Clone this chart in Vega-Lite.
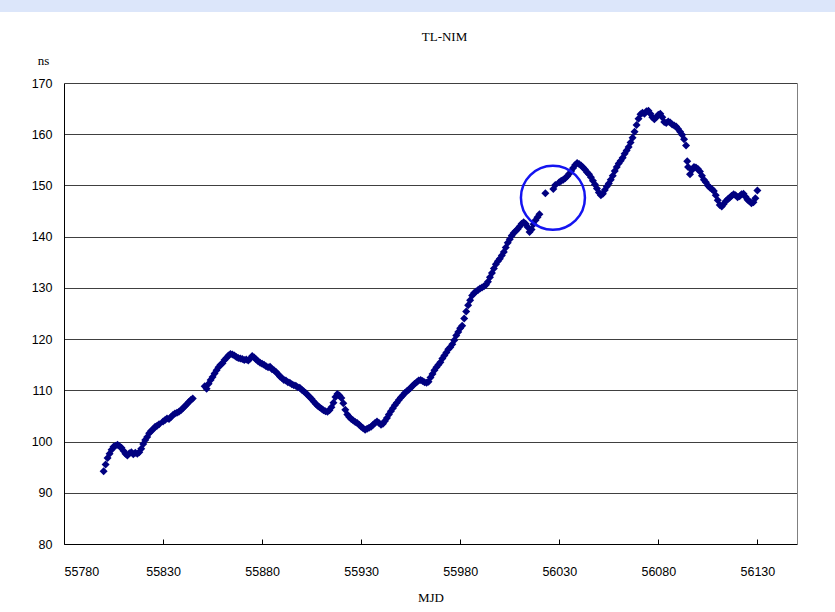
{
  "$schema": "https://vega.github.io/schema/vega-lite/v6.json",
  "width": 733,
  "height": 461,
  "autosize": {"type": "none"},
  "padding": {"left": 64, "top": 83, "right": 38, "bottom": 68},
  "background": "#dce6fa",
  "config": {
    "view": {"stroke": "white", "strokeWidth": 142, "fill": "white"},
    "axis": {"labelFont": "Liberation Sans", "labelFontSize": 12.5, "labelColor": "#000000", "titleFont": "Liberation Serif", "titleFontSize": 13, "titleFontWeight": "normal", "titleColor": "#000000"}
  },
  "title": {"text": "TL-NIM", "font": "Liberation Serif", "fontSize": 13, "fontWeight": "normal", "color": "#000000", "dx": 14, "offset": 10},
  "datasets": {
    "tl": [
      {"MJD": 55800, "ns": 94.2}, {"MJD": 55801, "ns": 95.5}, {"MJD": 55802, "ns": 96.8}, {"MJD": 55803, "ns": 97.6}, {"MJD": 55804, "ns": 98.4},
      {"MJD": 55805, "ns": 99.0}, {"MJD": 55806, "ns": 99.2}, {"MJD": 55807, "ns": 99.4}, {"MJD": 55808, "ns": 99.1}, {"MJD": 55809, "ns": 98.8},
      {"MJD": 55810, "ns": 98.2}, {"MJD": 55811, "ns": 97.6}, {"MJD": 55812, "ns": 97.3}, {"MJD": 55813, "ns": 97.7}, {"MJD": 55814, "ns": 97.9},
      {"MJD": 55815, "ns": 97.5}, {"MJD": 55816, "ns": 97.8}, {"MJD": 55817, "ns": 97.6}, {"MJD": 55818, "ns": 97.9}, {"MJD": 55819, "ns": 98.6},
      {"MJD": 55820, "ns": 99.5}, {"MJD": 55821, "ns": 100.3}, {"MJD": 55822, "ns": 100.9}, {"MJD": 55823, "ns": 101.6}, {"MJD": 55824, "ns": 102.1},
      {"MJD": 55825, "ns": 102.4}, {"MJD": 55826, "ns": 102.9}, {"MJD": 55827, "ns": 103.1}, {"MJD": 55828, "ns": 103.4}, {"MJD": 55830, "ns": 103.9},
      {"MJD": 55831, "ns": 104.2}, {"MJD": 55832, "ns": 104.5}, {"MJD": 55833, "ns": 104.4}, {"MJD": 55834, "ns": 104.8}, {"MJD": 55835, "ns": 105.2},
      {"MJD": 55836, "ns": 105.5}, {"MJD": 55837, "ns": 105.6}, {"MJD": 55838, "ns": 105.8}, {"MJD": 55839, "ns": 106.1}, {"MJD": 55840, "ns": 106.5},
      {"MJD": 55841, "ns": 106.9}, {"MJD": 55842, "ns": 107.3}, {"MJD": 55843, "ns": 107.7}, {"MJD": 55844, "ns": 108.1}, {"MJD": 55845, "ns": 108.4},
      {"MJD": 55851, "ns": 110.8}, {"MJD": 55852, "ns": 110.3}, {"MJD": 55853, "ns": 111.3}, {"MJD": 55854, "ns": 112.0}, {"MJD": 55855, "ns": 112.6},
      {"MJD": 55856, "ns": 113.3}, {"MJD": 55857, "ns": 113.9}, {"MJD": 55858, "ns": 114.5}, {"MJD": 55859, "ns": 115.0}, {"MJD": 55860, "ns": 115.3},
      {"MJD": 55861, "ns": 115.9}, {"MJD": 55862, "ns": 116.3}, {"MJD": 55863, "ns": 116.8}, {"MJD": 55864, "ns": 117.1}, {"MJD": 55865, "ns": 117.0},
      {"MJD": 55866, "ns": 116.8}, {"MJD": 55867, "ns": 116.5}, {"MJD": 55868, "ns": 116.3}, {"MJD": 55869, "ns": 116.2}, {"MJD": 55870, "ns": 116.1},
      {"MJD": 55871, "ns": 115.9}, {"MJD": 55872, "ns": 116.0}, {"MJD": 55873, "ns": 115.8}, {"MJD": 55874, "ns": 116.2}, {"MJD": 55875, "ns": 116.7},
      {"MJD": 55876, "ns": 116.4}, {"MJD": 55877, "ns": 116.0}, {"MJD": 55878, "ns": 115.7}, {"MJD": 55879, "ns": 115.4}, {"MJD": 55880, "ns": 115.2},
      {"MJD": 55881, "ns": 115.0}, {"MJD": 55882, "ns": 114.7}, {"MJD": 55883, "ns": 114.5}, {"MJD": 55884, "ns": 114.6}, {"MJD": 55885, "ns": 114.1},
      {"MJD": 55886, "ns": 113.9}, {"MJD": 55887, "ns": 113.6}, {"MJD": 55888, "ns": 113.2}, {"MJD": 55889, "ns": 112.7}, {"MJD": 55890, "ns": 112.4},
      {"MJD": 55891, "ns": 112.0}, {"MJD": 55892, "ns": 111.9}, {"MJD": 55893, "ns": 111.6}, {"MJD": 55894, "ns": 111.5}, {"MJD": 55895, "ns": 111.2},
      {"MJD": 55896, "ns": 111.0}, {"MJD": 55897, "ns": 110.9}, {"MJD": 55898, "ns": 110.6}, {"MJD": 55899, "ns": 110.5}, {"MJD": 55900, "ns": 110.1},
      {"MJD": 55901, "ns": 109.8}, {"MJD": 55902, "ns": 109.5}, {"MJD": 55903, "ns": 109.1}, {"MJD": 55904, "ns": 108.7}, {"MJD": 55905, "ns": 108.3},
      {"MJD": 55906, "ns": 107.8}, {"MJD": 55907, "ns": 107.4}, {"MJD": 55908, "ns": 107.0}, {"MJD": 55909, "ns": 106.7}, {"MJD": 55910, "ns": 106.4},
      {"MJD": 55911, "ns": 106.1}, {"MJD": 55912, "ns": 105.9}, {"MJD": 55913, "ns": 105.8}, {"MJD": 55914, "ns": 106.1}, {"MJD": 55915, "ns": 106.7},
      {"MJD": 55916, "ns": 107.6}, {"MJD": 55917, "ns": 108.7}, {"MJD": 55918, "ns": 109.3}, {"MJD": 55919, "ns": 109.0}, {"MJD": 55920, "ns": 108.5},
      {"MJD": 55921, "ns": 107.5}, {"MJD": 55922, "ns": 106.2}, {"MJD": 55923, "ns": 105.3}, {"MJD": 55924, "ns": 104.8}, {"MJD": 55925, "ns": 104.4},
      {"MJD": 55926, "ns": 104.1}, {"MJD": 55927, "ns": 103.8}, {"MJD": 55928, "ns": 103.6}, {"MJD": 55929, "ns": 103.3}, {"MJD": 55930, "ns": 102.9},
      {"MJD": 55931, "ns": 102.6}, {"MJD": 55932, "ns": 102.3}, {"MJD": 55933, "ns": 102.5}, {"MJD": 55934, "ns": 102.7}, {"MJD": 55935, "ns": 102.9},
      {"MJD": 55936, "ns": 103.3}, {"MJD": 55937, "ns": 103.6}, {"MJD": 55938, "ns": 103.9}, {"MJD": 55939, "ns": 103.6}, {"MJD": 55940, "ns": 103.3},
      {"MJD": 55941, "ns": 103.5}, {"MJD": 55942, "ns": 104.0}, {"MJD": 55943, "ns": 104.6}, {"MJD": 55944, "ns": 105.3}, {"MJD": 55945, "ns": 105.9},
      {"MJD": 55946, "ns": 106.5}, {"MJD": 55947, "ns": 107.1}, {"MJD": 55948, "ns": 107.6}, {"MJD": 55949, "ns": 108.1}, {"MJD": 55950, "ns": 108.6},
      {"MJD": 55951, "ns": 109.0}, {"MJD": 55952, "ns": 109.5}, {"MJD": 55953, "ns": 109.8}, {"MJD": 55954, "ns": 110.1}, {"MJD": 55955, "ns": 110.5},
      {"MJD": 55956, "ns": 110.9}, {"MJD": 55957, "ns": 111.3}, {"MJD": 55958, "ns": 111.6}, {"MJD": 55959, "ns": 111.9}, {"MJD": 55960, "ns": 112.0},
      {"MJD": 55961, "ns": 111.8}, {"MJD": 55962, "ns": 111.6}, {"MJD": 55963, "ns": 111.5}, {"MJD": 55964, "ns": 111.7}, {"MJD": 55965, "ns": 112.5},
      {"MJD": 55966, "ns": 113.2}, {"MJD": 55967, "ns": 113.9}, {"MJD": 55968, "ns": 114.5}, {"MJD": 55969, "ns": 115.0}, {"MJD": 55970, "ns": 115.5},
      {"MJD": 55971, "ns": 116.2}, {"MJD": 55972, "ns": 116.8}, {"MJD": 55973, "ns": 117.4}, {"MJD": 55974, "ns": 118.0}, {"MJD": 55975, "ns": 118.4},
      {"MJD": 55976, "ns": 119.0}, {"MJD": 55977, "ns": 119.8}, {"MJD": 55978, "ns": 120.7}, {"MJD": 55979, "ns": 121.4}, {"MJD": 55980, "ns": 122.1},
      {"MJD": 55981, "ns": 122.6}, {"MJD": 55982, "ns": 124.0}, {"MJD": 55983, "ns": 125.4}, {"MJD": 55984, "ns": 126.6}, {"MJD": 55985, "ns": 127.6},
      {"MJD": 55986, "ns": 128.5}, {"MJD": 55987, "ns": 129.0}, {"MJD": 55988, "ns": 129.3}, {"MJD": 55989, "ns": 129.6}, {"MJD": 55990, "ns": 129.9},
      {"MJD": 55991, "ns": 130.1}, {"MJD": 55992, "ns": 130.3}, {"MJD": 55993, "ns": 130.6}, {"MJD": 55994, "ns": 131.2}, {"MJD": 55995, "ns": 132.1},
      {"MJD": 55996, "ns": 132.9}, {"MJD": 55997, "ns": 133.8}, {"MJD": 55998, "ns": 134.6}, {"MJD": 55999, "ns": 135.2}, {"MJD": 56000, "ns": 135.7},
      {"MJD": 56001, "ns": 136.3}, {"MJD": 56002, "ns": 137.0}, {"MJD": 56003, "ns": 137.9}, {"MJD": 56004, "ns": 138.8}, {"MJD": 56005, "ns": 139.5},
      {"MJD": 56006, "ns": 140.2}, {"MJD": 56007, "ns": 140.7}, {"MJD": 56008, "ns": 141.1}, {"MJD": 56009, "ns": 141.5}, {"MJD": 56010, "ns": 142.0},
      {"MJD": 56011, "ns": 142.5}, {"MJD": 56012, "ns": 142.8}, {"MJD": 56013, "ns": 142.5}, {"MJD": 56014, "ns": 141.9}, {"MJD": 56015, "ns": 140.9},
      {"MJD": 56016, "ns": 141.4}, {"MJD": 56017, "ns": 142.4}, {"MJD": 56018, "ns": 143.2}, {"MJD": 56019, "ns": 143.8}, {"MJD": 56020, "ns": 144.4},
      {"MJD": 56023, "ns": 148.5}, {"MJD": 56027, "ns": 149.3}, {"MJD": 56028, "ns": 150.1},
      {"MJD": 56030, "ns": 150.6}, {"MJD": 56031, "ns": 150.9}, {"MJD": 56032, "ns": 151.1}, {"MJD": 56033, "ns": 151.4}, {"MJD": 56034, "ns": 151.8},
      {"MJD": 56035, "ns": 152.3}, {"MJD": 56036, "ns": 152.8}, {"MJD": 56037, "ns": 153.4}, {"MJD": 56038, "ns": 154.0}, {"MJD": 56039, "ns": 154.4},
      {"MJD": 56040, "ns": 154.2}, {"MJD": 56041, "ns": 153.9}, {"MJD": 56042, "ns": 153.5}, {"MJD": 56043, "ns": 153.1}, {"MJD": 56044, "ns": 152.6},
      {"MJD": 56045, "ns": 152.2}, {"MJD": 56046, "ns": 151.6}, {"MJD": 56047, "ns": 150.9}, {"MJD": 56048, "ns": 150.2}, {"MJD": 56049, "ns": 149.4},
      {"MJD": 56050, "ns": 148.6}, {"MJD": 56051, "ns": 148.1}, {"MJD": 56052, "ns": 148.4}, {"MJD": 56053, "ns": 149.1}, {"MJD": 56054, "ns": 149.8},
      {"MJD": 56055, "ns": 150.4}, {"MJD": 56056, "ns": 151.1}, {"MJD": 56057, "ns": 151.9}, {"MJD": 56058, "ns": 152.8}, {"MJD": 56059, "ns": 153.6},
      {"MJD": 56060, "ns": 154.3}, {"MJD": 56061, "ns": 154.8}, {"MJD": 56062, "ns": 155.4}, {"MJD": 56063, "ns": 156.2}, {"MJD": 56064, "ns": 156.8},
      {"MJD": 56065, "ns": 157.5}, {"MJD": 56066, "ns": 158.4}, {"MJD": 56067, "ns": 159.3}, {"MJD": 56068, "ns": 160.5}, {"MJD": 56069, "ns": 161.8},
      {"MJD": 56070, "ns": 163.0}, {"MJD": 56071, "ns": 163.9}, {"MJD": 56072, "ns": 164.2}, {"MJD": 56073, "ns": 164.0}, {"MJD": 56074, "ns": 164.5},
      {"MJD": 56075, "ns": 164.6}, {"MJD": 56076, "ns": 164.0}, {"MJD": 56077, "ns": 163.3}, {"MJD": 56078, "ns": 162.9}, {"MJD": 56079, "ns": 163.3},
      {"MJD": 56080, "ns": 163.8}, {"MJD": 56081, "ns": 164.0}, {"MJD": 56082, "ns": 163.3}, {"MJD": 56083, "ns": 162.4}, {"MJD": 56084, "ns": 162.2},
      {"MJD": 56085, "ns": 162.5}, {"MJD": 56086, "ns": 162.3}, {"MJD": 56087, "ns": 161.9}, {"MJD": 56088, "ns": 161.7}, {"MJD": 56089, "ns": 161.5},
      {"MJD": 56090, "ns": 161.0}, {"MJD": 56091, "ns": 160.5}, {"MJD": 56092, "ns": 159.9}, {"MJD": 56093, "ns": 159.0}, {"MJD": 56094, "ns": 157.8},
      {"MJD": 56094.6, "ns": 154.7}, {"MJD": 56095, "ns": 153.6}, {"MJD": 56096, "ns": 152.2}, {"MJD": 56097, "ns": 153.0}, {"MJD": 56098, "ns": 153.6},
      {"MJD": 56099, "ns": 153.5}, {"MJD": 56100, "ns": 153.2}, {"MJD": 56101, "ns": 152.7}, {"MJD": 56102, "ns": 151.9}, {"MJD": 56103, "ns": 151.1},
      {"MJD": 56104, "ns": 150.6}, {"MJD": 56105, "ns": 150.0}, {"MJD": 56106, "ns": 149.6}, {"MJD": 56107, "ns": 149.3}, {"MJD": 56108, "ns": 148.9},
      {"MJD": 56109, "ns": 148.1}, {"MJD": 56110, "ns": 147.1}, {"MJD": 56111, "ns": 146.2}, {"MJD": 56112, "ns": 145.9}, {"MJD": 56113, "ns": 146.4},
      {"MJD": 56114, "ns": 146.9}, {"MJD": 56115, "ns": 147.3}, {"MJD": 56116, "ns": 147.6}, {"MJD": 56117, "ns": 148.0}, {"MJD": 56118, "ns": 148.3},
      {"MJD": 56119, "ns": 148.1}, {"MJD": 56120, "ns": 147.7}, {"MJD": 56121, "ns": 147.9}, {"MJD": 56122, "ns": 148.3}, {"MJD": 56123, "ns": 148.4},
      {"MJD": 56124, "ns": 147.8}, {"MJD": 56125, "ns": 147.2}, {"MJD": 56126, "ns": 146.9}, {"MJD": 56127, "ns": 146.5}, {"MJD": 56128, "ns": 146.7},
      {"MJD": 56129, "ns": 147.5}, {"MJD": 56130, "ns": 149.0}
    ],
    "highlight": [{"MJD": 56026.8, "ns": 147.6}]
  },
  "layer": [
    {
      "data": {"name": "tl"},
      "mark": {"type": "point", "shape": "diamond", "filled": true, "color": "#000080", "size": 64, "opacity": 1},
      "encoding": {
        "x": {"field": "MJD", "type": "quantitative", "scale": {"domain": [55780, 56150], "nice": false, "zero": false},
          "axis": {"title": "MJD", "values": [55780, 55830, 55880, 55930, 55980, 56030, 56080, 56130], "format": "d", "grid": false,
            "domainColor": "#000000", "tickColor": "#000000", "tickSize": -5, "labelPadding": 26, "titleY": 53, "titleBaseline": "middle"}},
        "y": {"field": "ns", "type": "quantitative", "scale": {"domain": [80, 170], "nice": false, "zero": false},
          "axis": {"title": "ns", "values": [80, 90, 100, 110, 120, 130, 140, 150, 160, 170], "ticks": false, "labelPadding": 12,
            "grid": true, "gridColor": "#404040", "gridOpacity": 1, "domainColor": "#000000",
            "titleAngle": 0, "titleAlign": "center", "titleBaseline": "middle", "titleX": -21, "titleY": -23}}
      }
    },
    {
      "data": {"name": "highlight"},
      "mark": {"type": "point", "shape": "circle", "filled": false, "stroke": "#1414f0", "strokeWidth": 2.5, "size": 4096, "opacity": 1},
      "encoding": {
        "x": {"field": "MJD", "type": "quantitative"},
        "y": {"field": "ns", "type": "quantitative",
          "axis": {"orient": "right", "title": null, "labels": false, "ticks": false, "grid": false, "domainColor": "#808080"}}
      }
    }
  ],
  "resolve": {"axis": {"y": "independent"}}
}
